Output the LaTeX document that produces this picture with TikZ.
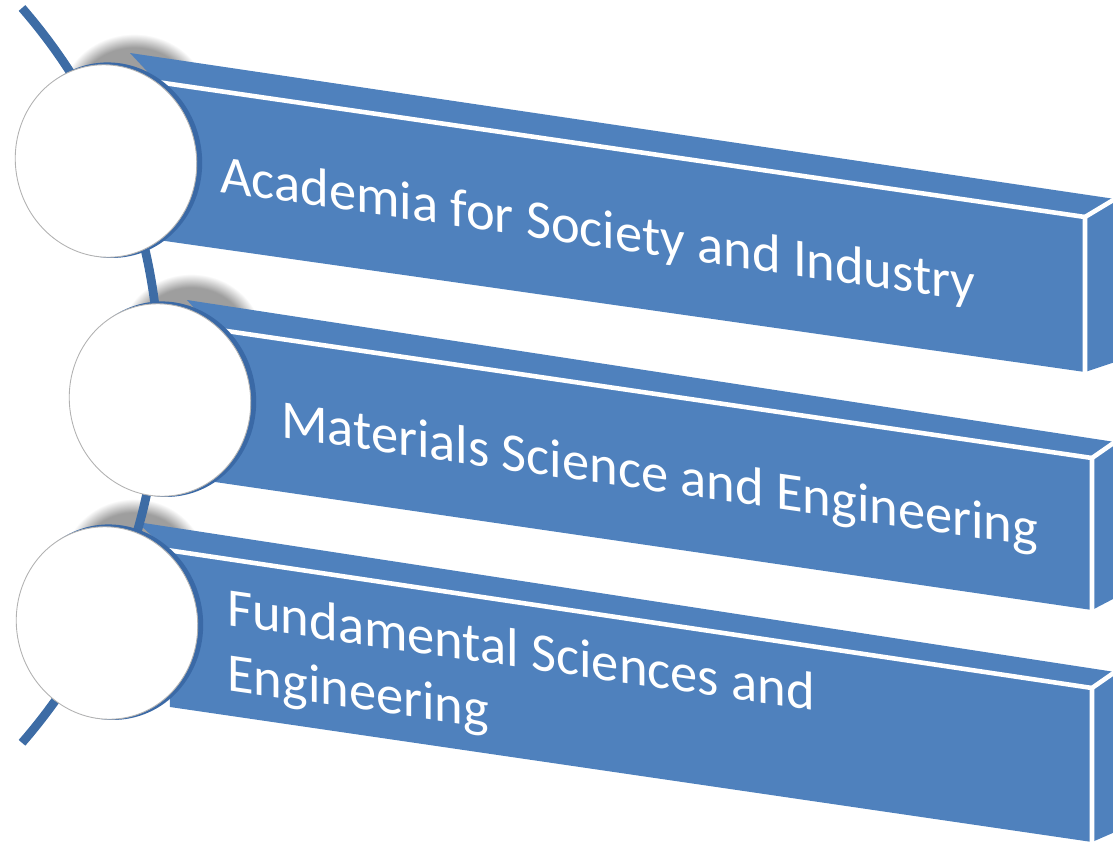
\documentclass[tikz,border=0pt]{standalone}
\usepackage{fontspec}
\setmainfont{Carlito}
\usetikzlibrary{shapes.geometric, fadings}

\definecolor{slabblue}{HTML}{4F81BD}
\definecolor{spineblue}{HTML}{3D6CA5}
\definecolor{rimblue}{HTML}{3A69A6}

\begin{document}
\begin{tikzpicture}[
    x=0.02cm, y=-0.02cm,
    slab/.style={fill=slabblue},
    slabline/.style={draw=white, line width=2.6pt, line join=round, line cap=round},
    haze/.style={fill=black!38, path fading=circle with fuzzy edge 20 percent},
    spine/.style={draw=spineblue, line width=5pt},
    rim/.style={fill=rimblue},
    disc/.style={ellipse, draw=gray!60, line width=0.5pt, fill=white,
        minimum width=3.62cm, minimum height=3.86cm, inner sep=0pt, rotate=12},
    slabtext/.style={text=white, font=\fontsize{31}{37}\selectfont, inner sep=0pt,
        yslant=-0.145, align=left}
]
    \useasboundingbox (0,0) rectangle (1113,845);
    \clip (0,0) rectangle (1113,845);

    % soft shadows behind the left ends
    \fill[haze] (134,102) ellipse [x radius=74, y radius=68];
    \fill[haze] (191,342) ellipse [x radius=72, y radius=68];
    \fill[haze] (134,567) ellipse [x radius=72, y radius=68];

    % ==========================================
    % Slab 1 (top)
    % ==========================================
    \coordinate (s1_btl) at (130,53);
    \coordinate (s1_btr) at (1115,199);
    \coordinate (s1_bbr) at (1115,362);
    \coordinate (s1_ftl) at (157,82);
    \coordinate (s1_ftr) at (1085,217);
    \coordinate (s1_fbr) at (1085,372);
    \coordinate (s1_fbl) at (158,240);
    \fill[slab] (s1_btl) -- (s1_btr) -- (s1_bbr) -- (s1_fbr) -- (s1_fbl) -- (s1_ftl) -- cycle;
    \draw[slabline] (s1_ftl) -- (s1_ftr) -- (s1_fbr);
    \draw[slabline] (s1_ftr) -- (s1_btr);

    % ==========================================
    % Slab 2 (middle)
    % ==========================================
    \coordinate (s2_btl) at (187,300);
    \coordinate (s2_btr) at (1115,442);
    \coordinate (s2_bbr) at (1115,598);
    \coordinate (s2_ftl) at (213,329);
    \coordinate (s2_ftr) at (1092,458);
    \coordinate (s2_fbr) at (1092,610);
    \coordinate (s2_fbl) at (215,482);
    \fill[slab] (s2_btl) -- (s2_btr) -- (s2_bbr) -- (s2_fbr) -- (s2_fbl) -- (s2_ftl) -- cycle;
    \draw[slabline] (s2_ftl) -- (s2_ftr) -- (s2_fbr);
    \draw[slabline] (s2_ftr) -- (s2_btr);

    % ==========================================
    % Slab 3 (bottom)
    % ==========================================
    \coordinate (s3_btl) at (137,522);
    \coordinate (s3_btr) at (1115,672);
    \coordinate (s3_bbr) at (1115,832);
    \coordinate (s3_ftl) at (167,550);
    \coordinate (s3_ftr) at (1092,688);
    \coordinate (s3_fbr) at (1092,842);
    \coordinate (s3_fbl) at (170,707);
    \fill[slab] (s3_btl) -- (s3_btr) -- (s3_bbr) -- (s3_fbr) -- (s3_fbl) -- (s3_ftl) -- cycle;
    \draw[slabline] (s3_ftl) -- (s3_ftr) -- (s3_fbr);
    \draw[slabline] (s3_ftr) -- (s3_btr);

    % curved spine running behind the discs
    \coordinate (spine_top) at (22,8);
    \draw[spine] (spine_top) arc[start angle=-41, end angle=41, radius=560];

    % discs: blue rim first, white face on top
    \coordinate (d1) at (106,161);
    \coordinate (d2) at (160,400);
    \coordinate (d3) at (107,623);
    \fill[rim, rotate around={12:(d1)}] ([xshift=0.08cm]d1) ellipse [x radius=92, y radius=98];
    \fill[rim, rotate around={12:(d2)}] ([xshift=0.08cm]d2) ellipse [x radius=92, y radius=98];
    \fill[rim, rotate around={12:(d3)}] ([xshift=0.08cm]d3) ellipse [x radius=92, y radius=98];
    \node[disc] (disc1) at (d1) {};
    \node[disc] (disc2) at (d2) {};
    \node[disc] (disc3) at (d3) {};

    % labels on the front faces
    \node[slabtext, anchor=base west] (academia) at (220,192) {Academia for Society and Industry};
    \node[slabtext, anchor=base west] (materials) at (281,437) {Materials Science and Engineering};
    \node[slabtext, anchor=north west] (fundamental) at (227,587) {Fundamental Sciences and\\Engineering};

\end{tikzpicture}
\end{document}
